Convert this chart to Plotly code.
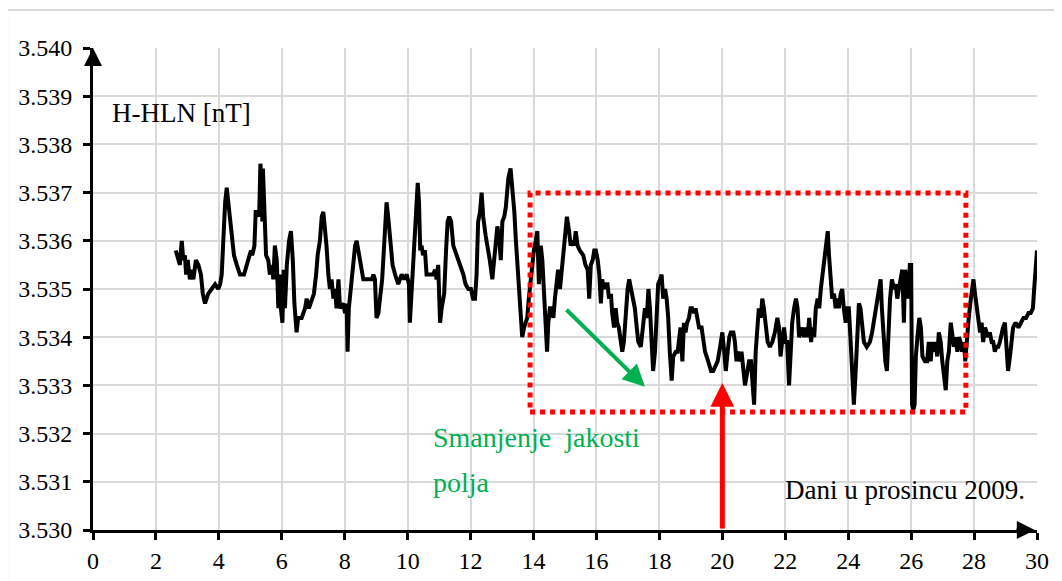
import plotly.graph_objects as go

# ---- data (day of December 2009, H value) ----
days_a = [2.63, 2.76, 2.82, 2.87, 2.92, 2.96, 3.01, 3.08, 3.14, 3.19,
          3.27, 3.35, 3.43, 3.49, 3.56, 3.66, 3.77, 3.88, 3.98, 4.04,
          4.09, 4.14, 4.20, 4.25, 4.30, 4.37, 4.44, 4.48, 4.57, 4.67,
          4.80, 4.88, 4.96, 5.02, 5.06, 5.13, 5.17, 5.23, 5.28, 5.32,
          5.35, 5.38, 5.40, 5.44, 5.50, 5.57, 5.62, 5.68, 5.73, 5.78,
          5.84, 5.89, 5.94, 5.97, 6.02, 6.06, 6.10, 6.16, 6.23, 6.29,
          6.35, 6.40, 6.47, 6.52, 6.63, 6.74, 6.79, 6.86, 6.95, 7.02,
          7.09, 7.14, 7.21, 7.27, 7.32, 7.37, 7.42, 7.48, 7.53, 7.58,
          7.64, 7.69, 7.74, 7.80, 7.85, 7.95, 8.01, 8.06, 8.09, 8.13,
          8.19, 8.25, 8.33, 8.38, 8.43, 8.51, 8.59, 8.70, 8.77, 8.86,
          8.91, 8.96, 9.01, 9.07, 9.12, 9.19, 9.26, 9.33, 9.38, 9.46,
          9.52, 9.60]
h_a = [3.5358, 3.5355, 3.5360, 3.5356, 3.5357, 3.5353, 3.5356, 3.5352, 3.5354, 3.5352,
       3.5356, 3.5355, 3.5353, 3.5349, 3.5347, 3.5349, 3.5350, 3.5351, 3.5350, 3.5351,
       3.5353, 3.5362, 3.5368, 3.5371, 3.5368, 3.5364, 3.5360, 3.5357, 3.5355, 3.5353,
       3.5353, 3.5355, 3.5357, 3.5358, 3.5357, 3.5359, 3.5366, 3.5366, 3.5365, 3.5376,
       3.5373, 3.5364, 3.5375, 3.5365, 3.5357, 3.5356, 3.5353, 3.5355, 3.5352, 3.5359,
       3.5356, 3.5346, 3.5353, 3.5346, 3.5343, 3.5354, 3.5346, 3.5355, 3.5360, 3.5362,
       3.5356, 3.5347, 3.5341, 3.5344, 3.5344, 3.5346, 3.5348, 3.5346, 3.5348, 3.5349,
       3.5353, 3.5357, 3.5360, 3.5365, 3.5366, 3.5363, 3.5359, 3.5353, 3.5350, 3.5352,
       3.5348, 3.5350, 3.5346, 3.5352, 3.5346, 3.5347, 3.5345, 3.5347, 3.5337, 3.5346,
       3.5350, 3.5355, 3.5359, 3.5360, 3.5358, 3.5354, 3.5352, 3.5352, 3.5352, 3.5352,
       3.5353, 3.5352, 3.5344, 3.5345, 3.5348, 3.5352, 3.5360, 3.5368, 3.5365, 3.5358,
       3.5355, 3.5353]

days_b = [9.70, 9.81, 9.89, 9.97, 10.04, 10.07, 10.13, 10.18, 10.23, 10.29,
          10.32, 10.36, 10.40, 10.44, 10.49, 10.55, 10.60, 10.65, 10.74, 10.81,
          10.87, 10.92, 10.97, 11.03, 11.08, 11.16, 11.22, 11.27, 11.32, 11.38,
          11.45, 11.56, 11.66, 11.77, 11.84, 11.93, 12.01, 12.08, 12.14, 12.19,
          12.24, 12.30, 12.35, 12.40, 12.48, 12.54, 12.61, 12.69, 12.74, 12.80,
          12.85, 12.90, 12.96, 13.01, 13.07, 13.12, 13.20, 13.27, 13.32, 13.39,
          13.44, 13.50, 13.55, 13.60, 13.64, 13.70, 13.75, 13.80, 13.85, 13.91,
          13.96, 14.01, 14.07, 14.12, 14.17, 14.23, 14.28, 14.33, 14.38, 14.43,
          14.47, 14.52, 14.57, 14.63, 14.68, 14.73, 14.78, 14.84, 14.89, 14.94,
          15.00, 15.06, 15.13, 15.18, 15.24, 15.29, 15.34, 15.40, 15.47, 15.58,
          15.65, 15.72, 15.77, 15.82, 15.88, 15.93, 15.98, 16.04, 16.09, 16.14,
          16.18, 16.24, 16.29, 16.35, 16.40, 16.46, 16.50, 16.56, 16.61, 16.66,
          16.71, 16.77, 16.82, 16.87, 16.93, 16.99]
h_b = [3.5351, 3.5353, 3.5352, 3.5353, 3.5351, 3.5343, 3.5350, 3.5357, 3.5363, 3.5368,
       3.5372, 3.5368, 3.5358, 3.5359, 3.5357, 3.5358, 3.5353, 3.5353, 3.5353, 3.5353,
       3.5354, 3.5352, 3.5355, 3.5343, 3.5346, 3.5349, 3.5358, 3.5364, 3.5365, 3.5364,
       3.5359, 3.5357, 3.5355, 3.5353, 3.5351, 3.5350, 3.5350, 3.5348, 3.5348, 3.5353,
       3.5364, 3.5366, 3.5370, 3.5365, 3.5361, 3.5359, 3.5356, 3.5352, 3.5356, 3.5359,
       3.5363, 3.5361, 3.5356, 3.5364, 3.5365, 3.5367, 3.5373, 3.5375, 3.5372, 3.5366,
       3.5360, 3.5354, 3.5348, 3.5342, 3.5340, 3.5342, 3.5343, 3.5344, 3.5348, 3.5352,
       3.5355, 3.5358, 3.5360, 3.5362, 3.5351, 3.5359, 3.5356, 3.5349, 3.5343, 3.5337,
       3.5343, 3.5346, 3.5346, 3.5344, 3.5348, 3.5351, 3.5354, 3.5350, 3.5353, 3.5357,
       3.5360, 3.5365, 3.5362, 3.5359, 3.5360, 3.5359, 3.5362, 3.5359, 3.5358, 3.5357,
       3.5355, 3.5354, 3.5348, 3.5355, 3.5356, 3.5358, 3.5358, 3.5356, 3.5353, 3.5347,
       3.5352, 3.5350, 3.5351, 3.5351, 3.5348, 3.5349, 3.5345, 3.5342, 3.5346, 3.5343,
       3.5342, 3.5339, 3.5337, 3.5339, 3.5346, 3.5350]

days_c = [17.04, 17.10, 17.17, 17.22, 17.28, 17.33, 17.41, 17.49, 17.54, 17.60,
          17.65, 17.70, 17.75, 17.80, 17.86, 17.91, 17.96, 18.02, 18.07, 18.12,
          18.18, 18.23, 18.28, 18.33, 18.39, 18.44, 18.52, 18.58, 18.62, 18.67,
          18.73, 18.78, 18.83, 18.88, 18.94, 18.99, 19.04, 19.10, 19.15, 19.20,
          19.26, 19.34, 19.39, 19.45, 19.55, 19.64, 19.71, 19.77, 19.85, 19.93,
          20.00, 20.06, 20.11, 20.17, 20.22, 20.27, 20.35, 20.40, 20.45, 20.50,
          20.56, 20.61, 20.66, 20.72, 20.80, 20.85, 20.91, 20.96, 21.01, 21.06,
          21.11, 21.16, 21.22, 21.27, 21.32, 21.38, 21.44, 21.51, 21.59, 21.67,
          21.75, 21.80, 21.85, 21.90, 21.96, 22.01, 22.06, 22.12, 22.17, 22.22,
          22.28, 22.34, 22.39, 22.44, 22.50, 22.55, 22.60, 22.66, 22.71, 22.76,
          22.82, 22.87, 22.92, 22.97, 23.03, 23.08, 23.13, 23.19, 23.24, 23.29,
          23.35, 23.39, 23.44, 23.49, 23.55, 23.60, 23.65, 23.70, 23.76, 23.81,
          23.86, 23.92, 23.97, 24.02, 24.07, 24.13, 24.18, 24.23, 24.29]
h_c = [3.5352, 3.5350, 3.5347, 3.5346, 3.5342, 3.5339, 3.5338, 3.5342, 3.5346, 3.5344,
       3.5350, 3.5346, 3.5337, 3.5333, 3.5337, 3.5343, 3.5351, 3.5352, 3.5353, 3.5348,
       3.5350, 3.5348, 3.5344, 3.5337, 3.5331, 3.5336, 3.5337, 3.5337, 3.5339, 3.5342,
       3.5335, 3.5343, 3.5341, 3.5343, 3.5344, 3.5346, 3.5346, 3.5345, 3.5346, 3.5344,
       3.5342, 3.5342, 3.5339, 3.5337, 3.5335, 3.5333, 3.5333, 3.5334, 3.5335, 3.5338,
       3.5341, 3.5337, 3.5333, 3.5337, 3.5340, 3.5341, 3.5341, 3.5339, 3.5335, 3.5337,
       3.5335, 3.5337, 3.5333, 3.5330, 3.5333, 3.5335, 3.5335, 3.5330, 3.5326, 3.5337,
       3.5342, 3.5346, 3.5344, 3.5348, 3.5346, 3.5343, 3.5339, 3.5338, 3.5339, 3.5341,
       3.5344, 3.5342, 3.5336, 3.5339, 3.5342, 3.5339, 3.5339, 3.5330, 3.5339, 3.5343,
       3.5346, 3.5348, 3.5346, 3.5340, 3.5341, 3.5342, 3.5340, 3.5342, 3.5340, 3.5344,
       3.5339, 3.5342, 3.5340, 3.5346, 3.5348, 3.5346, 3.5350, 3.5353, 3.5357, 3.5359,
       3.5362, 3.5357, 3.5353, 3.5348, 3.5349, 3.5346, 3.5348, 3.5346, 3.5349, 3.5350,
       3.5346, 3.5343, 3.5346, 3.5346, 3.5340, 3.5332, 3.5326, 3.5332, 3.5341]

days_d = [24.34, 24.39, 24.45, 24.50, 24.59, 24.69, 24.76, 24.83, 24.90, 24.98,
          25.03, 25.07, 25.12, 25.18, 25.23, 25.28, 25.33, 25.39, 25.45, 25.51,
          25.56, 25.61, 25.67, 25.72, 25.77, 25.81, 25.86, 25.91, 25.96, 26.00,
          26.03, 26.07, 26.11, 26.15, 26.20, 26.26, 26.31, 26.36, 26.44, 26.51,
          26.56, 26.62, 26.67, 26.72, 26.78, 26.83, 26.88, 26.94, 26.99, 27.04,
          27.10, 27.15, 27.20, 27.26, 27.31, 27.36, 27.41, 27.47, 27.52, 27.57,
          27.62, 27.68, 27.72, 27.77, 27.83, 27.88, 27.93, 27.98, 28.03, 28.08,
          28.14, 28.19, 28.24, 28.29, 28.35, 28.40, 28.45, 28.50, 28.56, 28.61,
          28.66, 28.71, 28.77, 28.82, 28.87, 28.92, 28.98, 29.03, 29.08, 29.14,
          29.19, 29.24, 29.32, 29.41, 29.49, 29.57, 29.65, 29.73, 29.80, 29.87,
          29.91, 29.96, 30.00]
h_d = [3.5347, 3.5346, 3.5342, 3.5339, 3.5338, 3.5339, 3.5341, 3.5344, 3.5347, 3.5350,
       3.5352, 3.5346, 3.5339, 3.5335, 3.5333, 3.5344, 3.5348, 3.5352, 3.5350, 3.5351,
       3.5348, 3.5350, 3.5353, 3.5354, 3.5343, 3.5354, 3.5352, 3.5348, 3.5355, 3.5355,
       3.5326, 3.5325, 3.5326, 3.5336, 3.5340, 3.5344, 3.5342, 3.5336, 3.5335, 3.5335,
       3.5339, 3.5335, 3.5339, 3.5337, 3.5339, 3.5336, 3.5341, 3.5339, 3.5335, 3.5332,
       3.5329, 3.5335, 3.5337, 3.5343, 3.5341, 3.5338, 3.5340, 3.5337, 3.5340, 3.5339,
       3.5337, 3.5339, 3.5335, 3.5340, 3.5344, 3.5347, 3.5349, 3.5352, 3.5349, 3.5346,
       3.5343, 3.5341, 3.5343, 3.5339, 3.5342, 3.5341, 3.5340, 3.5341, 3.5339, 3.5339,
       3.5337, 3.5338, 3.5338, 3.5339, 3.5341, 3.5342, 3.5343, 3.5337, 3.5333, 3.5336,
       3.5340, 3.5342, 3.5343, 3.5342, 3.5343, 3.5344, 3.5344, 3.5345, 3.5345, 3.5346,
       3.5350, 3.5355, 3.5358]

x_ticks = [0, 2, 4, 6, 8, 10, 12, 14, 16, 18, 20, 22, 24, 26, 28, 30]
y_ticks = [3.530, 3.531, 3.532, 3.533, 3.534, 3.535, 3.536, 3.537, 3.538, 3.539, 3.540]
y_tick_labels = ["3.530", "3.531", "3.532", "3.533", "3.534", "3.535",
                 "3.536", "3.537", "3.538", "3.539", "3.540"]

# highlighted period and annotation anchors
box_days = [13.89, 27.74]
box_h = [3.53245, 3.53699]
trend_start = (15.0, 3.5346)
trend_end = (17.54, 3.53297)
marker_day = 20
marker_tip = 3.53305

days = days_a + days_b + days_c + days_d
h_values = h_a + h_b + h_c + h_d
assert len(days) == len(h_values)

SERIF = "Liberation Serif, Times New Roman, serif"
GRID = "#d9d9d9"
RED = "#ff0000"
GREEN = "#00b050"

fig = go.Figure()
fig.add_trace(go.Scatter(
    x=days, y=h_values, mode="lines",
    line=dict(color="black", width=4),
    hoverinfo="skip", showlegend=False,
))

fig.update_layout(
    width=1054, height=573,
    margin=dict(l=85, r=25, t=40, b=51),
    paper_bgcolor="white", plot_bgcolor="white",
    font=dict(family=SERIF, size=24, color="black"),
    xaxis=dict(
        range=[0, 30], tickvals=x_ticks, ticktext=[str(v) for v in x_ticks],
        showgrid=True, gridcolor=GRID, gridwidth=1.5,
        showline=True, linecolor="black", linewidth=3,
        ticks="outside", ticklen=7, tickwidth=3, tickcolor="black",
        zeroline=False, automargin=False,
        tickfont=dict(family=SERIF, size=24, color="black"),
    ),
    yaxis=dict(
        range=[3.530, 3.540], tickvals=y_ticks, ticktext=y_tick_labels,
        showgrid=True, gridcolor=GRID, gridwidth=1.5,
        showline=True, linecolor="black", linewidth=3,
        ticks="outside", ticklen=7, tickwidth=3, tickcolor="black",
        zeroline=False, automargin=False, ticklabelstandoff=6,
        tickfont=dict(family=SERIF, size=24, color="black"),
    ),
)

# outer light frame of the chart area (partly cropped in reference)
fig.add_shape(type="rect", xref="paper", yref="paper",
              x0=-0.091, x1=1.2, y0=-0.3, y1=1.079,
              line=dict(color=GRID, width=2), layer="below")

# red dotted box
fig.add_shape(type="rect", xref="x", yref="y",
              x0=box_days[0], x1=box_days[1], y0=box_h[0], y1=box_h[1],
              line=dict(color=RED, width=5, dash="dot"))

# axis arrowheads
fig.add_annotation(x=0, y=3.540, ax=0, ay=3.5396, xref="x", yref="y",
                   axref="x", ayref="y", showarrow=True, arrowhead=2,
                   arrowsize=1.2, arrowwidth=3, arrowcolor="black", text="")
fig.add_annotation(x=29.93, y=3.530, ax=29.3, ay=3.530, xref="x", yref="y",
                   axref="x", ayref="y", showarrow=True, arrowhead=2,
                   arrowsize=1.2, arrowwidth=3, arrowcolor="black", text="")

# red vertical arrow at day 20
fig.add_annotation(x=marker_day, y=marker_tip, ax=marker_day, ay=3.530,
                   xref="x", yref="y", axref="x", ayref="y", showarrow=True,
                   arrowhead=2, arrowsize=0.95, arrowwidth=5, arrowcolor=RED, text="")

# green trend arrow
fig.add_annotation(x=trend_end[0], y=trend_end[1], ax=trend_start[0], ay=trend_start[1],
                   xref="x", yref="y", axref="x", ayref="y", showarrow=True,
                   arrowhead=2, arrowsize=1.1, arrowwidth=4, arrowcolor=GREEN, text="")

# texts
fig.add_annotation(x=0.55, y=3.53865, xref="x", yref="y", text="H-HLN [nT]",
                   showarrow=False, xanchor="left", yanchor="middle",
                   font=dict(family=SERIF, size=27, color="black"))
fig.add_annotation(x=10.75, y=3.53191, xref="x", yref="y",
                   text="Smanjenje\u2002jakosti",
                   showarrow=False, xanchor="left", yanchor="middle",
                   font=dict(family=SERIF, size=28, color=GREEN))
fig.add_annotation(x=10.75, y=3.53098, xref="x", yref="y", text="polja",
                   showarrow=False, xanchor="left", yanchor="middle",
                   font=dict(family=SERIF, size=28, color=GREEN))
fig.add_annotation(x=21.92, y=3.53083, xref="x", yref="y", text="Dani u prosincu 2009.",
                   showarrow=False, xanchor="left", yanchor="middle",
                   font=dict(family=SERIF, size=27, color="black"))

fig.write_html("out.html")
